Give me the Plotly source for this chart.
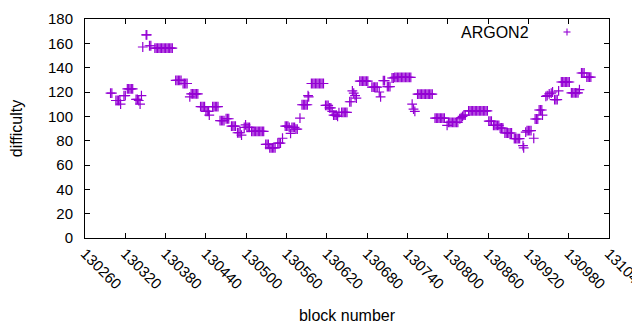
import plotly.graph_objects as go

# ARGON2 blocks (block number) and their difficulty
blocks = [
    130298, 130300, 130306, 130308, 130310, 130312, 130313, 130318, 130320,
    130323, 130325, 130327, 130329, 130331, 130336, 130338, 130340, 130342, 130344,
    130346, 130351, 130352, 130356, 130358,
    130364, 130366, 130368, 130370, 130372, 130374, 130376, 130378, 130380, 130382, 130384, 130386, 130388, 130390,
    130395, 130397, 130399, 130401, 130403, 130406, 130408, 130410, 130412,
    130416, 130418, 130420, 130422, 130424, 130426, 130428,
    130432, 130434, 130436, 130438, 130440, 130442, 130444, 130445,
    130450, 130452, 130454, 130456, 130458, 130461, 130463, 130465, 130467, 130470, 130472, 130474,
    130478, 130480, 130482, 130484, 130487, 130489, 130491, 130493,
    130497, 130499, 130501, 130503, 130505,
    130508, 130510, 130512, 130514, 130516, 130518, 130520, 130522, 130524, 130526,
    130529, 130531, 130533, 130535, 130537, 130539, 130541, 130543, 130547, 130549, 130551, 130554,
    130558, 130560, 130562, 130564, 130566, 130568, 130570, 130572, 130574, 130576, 130580,
    130583, 130585, 130587, 130589, 130591, 130592, 130593,
    130597, 130599, 130601, 130603, 130605, 130607, 130609, 130611, 130613, 130615,
    130618, 130620, 130622, 130624, 130626, 130628, 130630, 130632, 130634, 130636, 130638,
    130642, 130644, 130646, 130648, 130650, 130654, 130656, 130658, 130660, 130662, 130664,
    130669, 130671, 130673, 130675, 130677, 130679, 130681, 130687, 130689, 130691, 130693, 130695, 130698, 130700,
    130704, 130706, 130710, 130712, 130714, 130717, 130719,
    130721, 130723, 130725, 130727, 130729, 130731, 130733, 130735, 130737, 130739, 130741, 130743, 130745,
    130747, 130749, 130751,
    130755, 130757, 130759, 130761, 130763, 130765, 130767, 130769, 130771, 130773, 130775, 130777,
    130781, 130783, 130785, 130787, 130789, 130791, 130793, 130795,
    130799, 130801, 130803, 130805, 130807, 130809, 130811, 130813, 130815,
    130818, 130820, 130822, 130824, 130826,
    130831, 130833, 130835, 130837, 130839, 130841, 130843, 130845, 130847, 130849, 130851, 130853, 130855, 130857, 130859,
    130861, 130863, 130865, 130868, 130870, 130872, 130874, 130876, 130878, 130880, 130882,
    130885, 130887, 130889, 130891, 130893, 130895, 130899, 130901, 130903, 130905, 130907, 130912, 130913,
    130916, 130918, 130920, 130922, 130924, 130928, 130930, 130932, 130934, 130936, 130938, 130940, 130941,
    130946, 130948, 130951, 130954, 130956, 130959, 130961, 130963, 130965,
    130969, 130971, 130973, 130975, 130977, 130979, 130981, 130984, 130986, 130988, 130990, 130992, 130994, 130996,
    130999, 131001, 131003, 131007, 131009, 131011, 131013,
]

difficulty = [
    119, 119, 113, 113, 113, 113, 110, 117, 117,
    122.5, 122.5, 122.5, 122.5, 122.5, 114, 114, 113, 110, 117,
    157, 167, 167, 158, 158,
    156, 156, 156, 156, 156, 156, 156, 156, 156, 156, 156, 156, 156, 156,
    129.5, 129.5, 129.5, 129.5, 129.5, 127, 127, 127, 127,
    116, 118.5, 118.5, 118.5, 118.5, 118.5, 118.5,
    108, 108, 108, 108, 104, 104, 104, 101,
    108, 108, 108, 108, 108, 96.5, 96.5, 96.5, 96.5, 98, 98, 98,
    92, 92, 92, 92, 86.5, 86.5, 86.5, 84.5,
    91, 93, 91, 91, 91,
    87.7, 87.7, 87.7, 87.7, 87.7, 87.7, 87.7, 87.7, 87.7, 87.7,
    77, 77, 77, 74, 74, 74, 74, 74, 78, 78, 78, 82,
    92, 92, 92, 91, 86, 91, 91, 91, 89.5, 89.5, 98.6,
    109.5, 109.5, 109.5, 109.5, 109.5, 117, 116,
    127, 127, 127, 127, 127, 127, 127, 127, 127, 127,
    109, 109, 109, 107, 107, 104, 101, 101, 101, 100, 103,
    103.3, 103.3, 103.3, 103.3, 103.3, 112, 112, 121, 119, 117, 115,
    129, 129, 129, 129, 129, 129, 129, 124, 124, 124, 124, 124, 120, 116,
    129.3, 129.3, 124.4, 124.4, 124.4, 131.5, 131.5,
    132, 132, 132, 132, 132, 132, 132, 132, 132, 132, 132, 132, 132,
    110, 106, 104,
    118.3, 118.3, 118.3, 118.3, 118.3, 118.3, 118.3, 118.3, 118.3, 118.3, 118.3, 118.3,
    98.5, 98.5, 98.5, 98.5, 98.5, 98.5, 98.5, 98.5,
    92.6, 95, 95, 95, 95, 95, 95, 95, 95,
    98, 99, 100, 101, 101,
    104.5, 104.5, 104.5, 104.5, 104.5, 104.5, 104.5, 104.5, 104.5, 104.5, 104.5, 104.5, 104.5, 104.5, 104.5,
    96, 96, 96, 92.6, 92.6, 92.6, 92.6, 92.6, 90.4, 90.4, 90.4,
    86.3, 86.3, 86.3, 86.3, 86.3, 86.3, 81.6, 81.6, 81.6, 81.6, 81.6, 76, 74,
    87, 88.2, 88.2, 88.2, 88.2, 82, 97.8, 97.8, 97.8, 105.2, 105.2, 105.2, 101,
    116.4, 117, 118.4, 119, 120, 113.7, 113.7, 113.7, 121,
    128.2, 128.2, 128.2, 128.2, 128.2, 128.2, 128.2, 119.2, 119.2, 119.2, 119.2, 119.2, 119.2, 122,
    135.6, 135.6, 135.6, 132.3, 132.3, 132.3, 132.3,
]

x_ticks = [130260, 130320, 130380, 130440, 130500, 130560, 130620,
           130680, 130740, 130800, 130860, 130920, 130980, 131040]
y_ticks = [0, 20, 40, 60, 80, 100, 120, 140, 160, 180]
series_name = "ARGON2"
color = "#9400D3"

FONT = "Liberation Sans, Arial, sans-serif"

fig = go.Figure()
fig.add_trace(go.Scatter(
    x=blocks, y=difficulty, mode="markers", name=series_name,
    marker=dict(symbol="cross-thin", size=7, color=color,
                line=dict(color=color, width=1.2)),
    showlegend=False, cliponaxis=False,
))

axis_common = dict(
    showline=True, linecolor="black", linewidth=1, mirror="ticks",
    ticks="inside", ticklen=5, tickcolor="black", tickwidth=1,
    showgrid=False, zeroline=False, automargin=False,
    ticklabeloverflow="allow",
    tickfont=dict(family=FONT, size=15, color="black"),
)

fig.update_xaxes(
    range=[130260, 131040], tickmode="array", tickvals=x_ticks,
    ticktext=[str(v) for v in x_ticks], tickangle=45,
    title=dict(text="block number", font=dict(family=FONT, size=16, color="black"), standoff=18),
    **axis_common,
)
fig.update_yaxes(
    range=[0, 180], tickmode="array", tickvals=y_ticks,
    ticktext=[str(v) for v in y_ticks],
    ticklabelstandoff=8,
    title=dict(text="difficulty", font=dict(family=FONT, size=16, color="black"), standoff=21),
    **axis_common,
)

# gnuplot-style key: text then sample symbol on the right
LX = (567 - 85) / 524.0
LY = (238 - 32) / 219.0
fig.add_annotation(
    x=(531 - 85) / 524.0, y=LY, xref="paper", yref="paper",
    text=series_name, showarrow=False, xanchor="right", yanchor="middle",
    font=dict(family=FONT, size=16, color="black"),
)
fig.add_shape(type="line", xref="paper", yref="paper", xsizemode="pixel", ysizemode="pixel",
              xanchor=LX, yanchor=LY, x0=-3.5, x1=3.5, y0=0, y1=0,
              line=dict(color=color, width=1.1))
fig.add_shape(type="line", xref="paper", yref="paper", xsizemode="pixel", ysizemode="pixel",
              xanchor=LX, yanchor=LY, x0=0, x1=0, y0=-3.5, y1=3.5,
              line=dict(color=color, width=1.1))

# the page body adds an 8px offset, so the figure is 8px smaller and margins shifted
fig.update_layout(
    width=632, height=322,
    margin=dict(l=77, r=31, t=11, b=92, pad=0),
    paper_bgcolor="white", plot_bgcolor="white",
    font=dict(family=FONT, size=15, color="black"),
)

fig.write_html("out.html")
